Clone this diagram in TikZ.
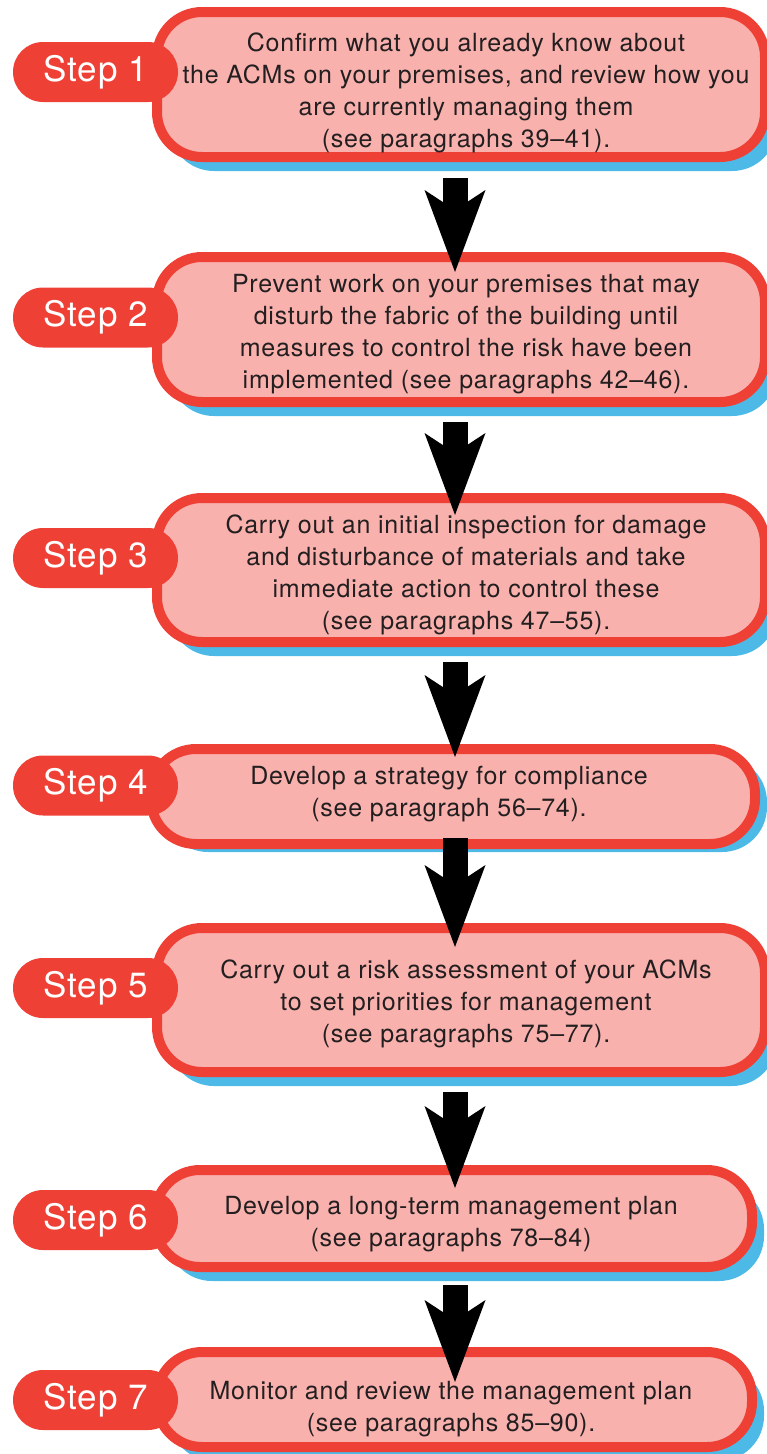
\documentclass[tikz,border=0pt]{standalone}
\usepackage{fontspec}
\setmainfont{TeX Gyre Heros}
\newfontfamily\stepfont{TeX Gyre Heros}[LetterSpace=3]
\usetikzlibrary{shadows,arrows.meta,calc}
\definecolor{stepred}{HTML}{EF4036}
\definecolor{steppink}{HTML}{F9B1AD}
\definecolor{stepblue}{HTML}{4DB9E6}
\definecolor{steptext}{HTML}{231F20}
\tikzset{
  stepbox/.style={draw=stepred, fill=steppink, line width=10pt, rounded corners=45pt,
    drop shadow={shadow xshift=12pt, shadow yshift=#1, fill=stepblue, opacity=1}},
  stepbox/.default=-14pt,
  boxtext/.style={align=center, inner sep=0pt, text=steptext, font=\stepfont\fontsize{25}{32}\selectfont},
  pillshade/.style={fill=stepblue, rounded corners=30pt, minimum width=165pt, minimum height=60pt},
  steppill/.style={fill=stepred, text=white, rounded corners=30pt, minimum width=165pt,
    minimum height=60pt, inner sep=0pt, font=\stepfont\fontsize{35}{40}\selectfont},
  downarrow/.style={line width=25pt, -{Stealth[length=82pt, width=61pt, inset=20pt, line width=0pt]}}
}
\begin{document}
\begin{tikzpicture}[x=1pt,y=-1pt]
  \useasboundingbox (0,0) rectangle (767,1454);
  \clip (0,0) rectangle (767,1454);
  \coordinate (axis) at (455,0);
  % shadows of the step labels, behind the boxes
  \foreach \y in {72,317.5,558,785.5,988,1220,1400}
    \path[pillshade] (105.5,\y+12) node {};
  % the boxes
  \node[stepbox, minimum width=608pt, minimum height=145pt] (box1) at (461,84.5) {};
  \node[stepbox, minimum width=608pt, minimum height=145pt] (box2) at (461,329.5) {};
  \node[stepbox, minimum width=608pt, minimum height=144pt] (box3) at (461,570) {};
  \node[stepbox=-8pt, minimum width=604pt, minimum height=95pt] (box4) at (453,796.5) {};
  \node[stepbox, minimum width=608pt, minimum height=144pt] (box5) at (461,1000) {};
  \node[stepbox, minimum width=597pt, minimum height=97pt] (box6) at (453.5,1218.5) {};
  \node[stepbox, minimum width=595pt, minimum height=95pt] (box7) at (454.5,1399.5) {};
  % texts in the boxes
  \node[boxtext] (text1) at ([shift={(5,8.5)}]box1.center)
    {Confirm what you already know about\\the ACMs on your premises, and review how you\\are currently managing them\\(see paragraphs 39–41).};
  \node[boxtext] (text2) at ([shift={(5,4.5)}]box2.center)
    {Prevent work on your premises that may\\disturb the fabric of the building until\\measures to control the risk have been\\implemented (see paragraphs 42–46).};
  \node[boxtext] (text3) at ([shift={(5,4.5)}]box3.center)
    {Carry out an initial inspection for damage\\and disturbance of materials and take\\immediate action to control these\\(see paragraphs 47–55).};
  \node[boxtext] (text4) at ([shift={(-4,-2)}]box4.center)
    {Develop a strategy for compliance\\(see paragraph 56–74).};
  \node[boxtext] (text5) at ([shift={(5,4)}]box5.center)
    {Carry out a risk assessment of your ACMs\\to set priorities for management\\(see paragraphs 75–77).};
  \node[boxtext] (text6) at ([shift={(-2.5,6)}]box6.center)
    {Develop a long-term management plan\\(see paragraphs 78–84)};
  \node[boxtext] (text7) at ([shift={(-3.5,9.5)}]box7.center)
    {Monitor and review the management plan\\(see paragraphs 85–90).};
  % step labels
  \foreach \i/\y in {1/72,2/317.5,3/558,4/785.5,5/988,6/1220,7/1400}
    \node[steppill] (step\i) at (95.5,\y) {Step \i};
  % arrows between the boxes
  \foreach \a/\b/\s/\t in {1/2/16/20,2/3/15/22,3/4/15/13,4/5/-11/24,5/6/15/23,6/7/13/35}
    \draw[downarrow] ($(box\a.south -| axis)+(0,\s)$) -- ($(box\b.north -| axis)+(0,\t)$);
\end{tikzpicture}
\end{document}
